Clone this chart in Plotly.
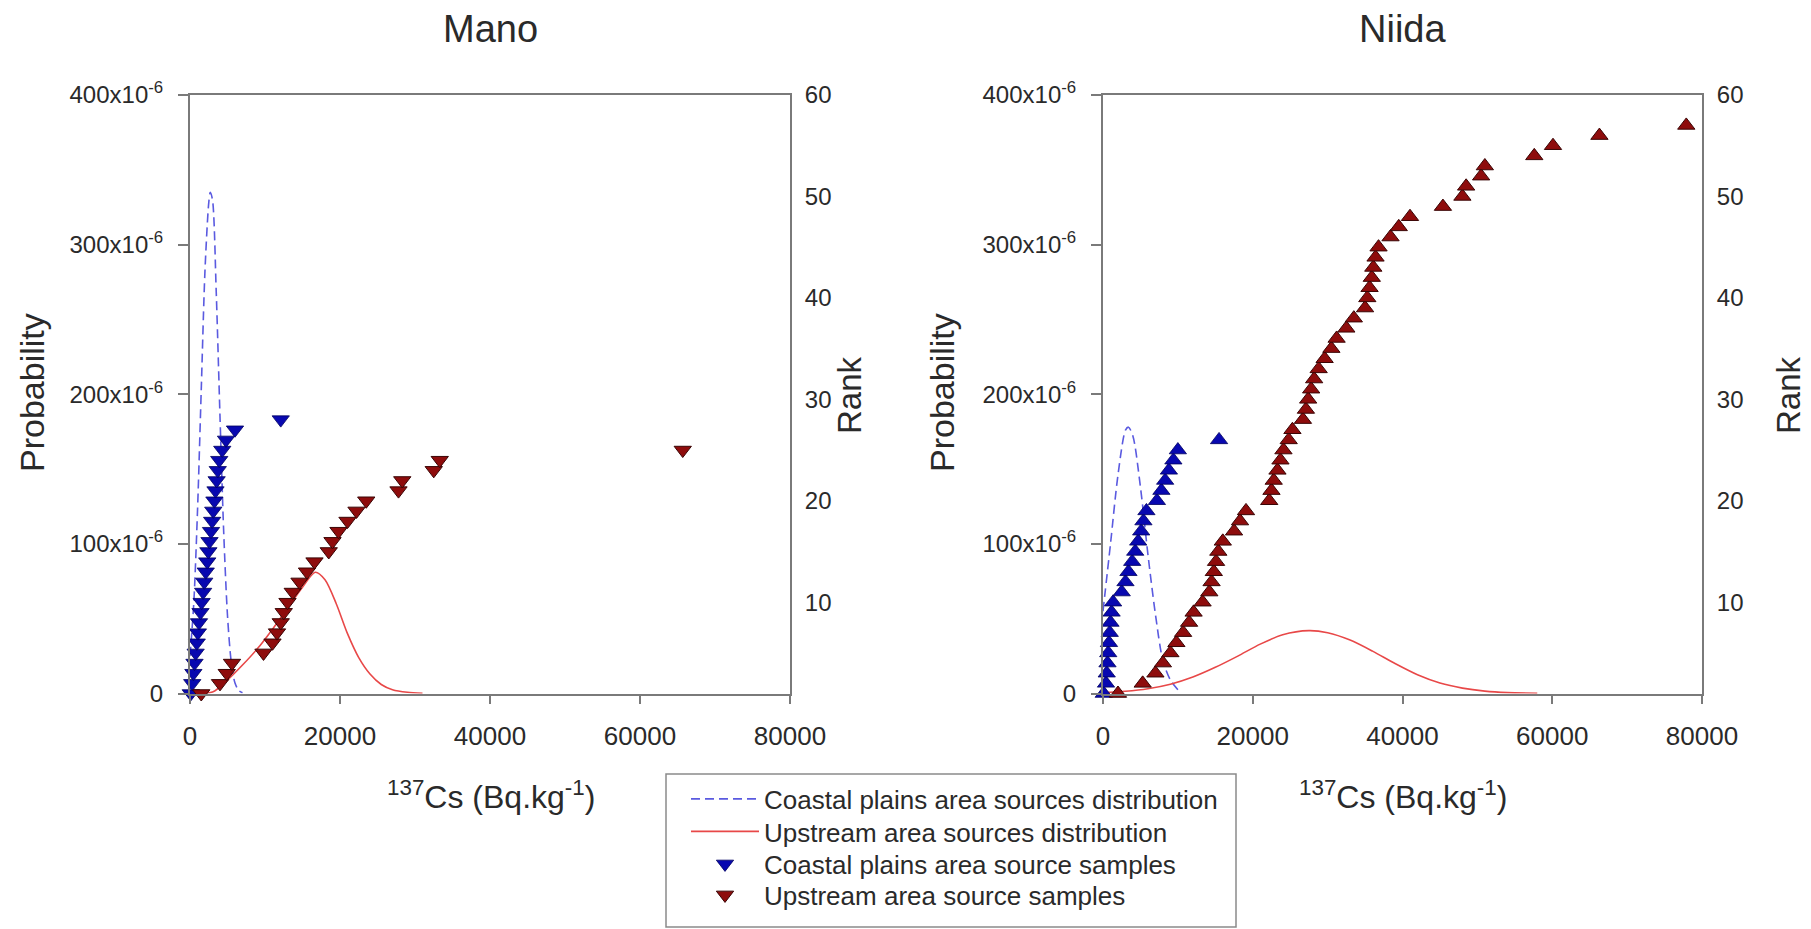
import plotly.graph_objects as go

# ---------------- Data ----------------
# Mano: coastal plains source samples (Cs, rank)
mano_coastal_cs = [100, 300, 450, 600, 750, 900, 1050, 1200, 1400, 1550, 1750, 1900, 2100, 2300,
                   2450, 2600, 2800, 2950, 3100, 3250, 3400, 3550, 3700, 3900, 4300, 4800, 6000, 12100]
mano_coastal_rank = [1, 2, 3, 4, 5, 6, 7, 8, 9, 10, 11, 12, 13, 14,
                     15, 16, 17, 18, 19, 20, 21, 22, 23, 24, 25, 26, 27, 28]
# Mano: upstream source samples
mano_upstream_cs = [1500, 4000, 4900, 5600, 9800, 11000, 11600, 12100, 12500, 13000, 13700, 14600, 15600,
                    16600, 18500, 19000, 19800, 21000, 22200, 23500, 27800, 28300, 32500, 33300, 65700]
mano_upstream_rank = [1, 2, 3, 4, 5, 6, 7, 8, 9, 10, 11, 12, 13,
                      14, 15, 16, 17, 18, 19, 20, 21, 22, 23, 24, 25]
# Mano: distributions (Cs, probability)
mano_coastal_dist_cs = [0, 500, 1000, 1500, 2000, 2500, 2700, 3000, 3500, 4000, 4500, 5000, 5500, 6000, 6500, 7000]
mano_coastal_dist_p = [25e-6, 60e-6, 122e-6, 203e-6, 283e-6, 328e-6, 335e-6, 330e-6, 268e-6, 185e-6,
                       107e-6, 52e-6, 21e-6, 7e-6, 2e-6, 0.5e-6]
mano_upstream_dist_cs = [0, 3000, 5000, 7000, 9000, 11000, 13000, 15000, 16700, 18000, 19500, 21000,
                         22500, 24000, 25500, 27000, 29000, 31000]
mano_upstream_dist_p = [0.2e-6, 1e-6, 9e-6, 19e-6, 30e-6, 43e-6, 57e-6, 71e-6, 81e-6, 76e-6, 60e-6, 40e-6,
                        24e-6, 13e-6, 6e-6, 2.5e-6, 0.8e-6, 0.2e-6]

# Niida: coastal plains source samples
niida_coastal_cs = [100, 400, 500, 600, 700, 800, 900, 1000, 1150, 1350, 2500, 3000, 3400, 3900, 4300,
                    4700, 5100, 5400, 5800, 7200, 7800, 8300, 8800, 9400, 10000, 15500]
niida_coastal_rank = [1, 2, 3, 4, 5, 6, 7, 8, 9, 10, 11, 12, 13, 14, 15,
                      16, 17, 18, 19, 20, 21, 22, 23, 24, 25, 26]
# Niida: upstream source samples
niida_upstream_cs = [2000, 5300, 7000, 8000, 9000, 9800, 10700, 11500, 12100, 13300, 14200, 14500, 14800,
                     15100, 15400, 16000, 17500, 18300, 19100, 22200, 22500, 22800, 23300, 23700, 24100,
                     24800, 25300, 26700, 27100, 27400, 27800, 28200, 28800, 29600, 30500, 31200, 32500,
                     33500, 35000, 35300, 35600, 35900, 36100, 36400, 36800, 38400, 39500, 41000, 45400,
                     48000, 48500, 50500, 51000, 57600, 60100, 66300, 77900]
niida_upstream_rank = [1, 2, 3, 4, 5, 6, 7, 8, 9, 10, 11, 12, 13,
                       14, 15, 16, 17, 18, 19, 20, 21, 22, 23, 24, 25,
                       26, 27, 28, 29, 30, 31, 32, 33, 34, 35, 36, 37,
                       38, 39, 40, 41, 42, 43, 44, 45, 46, 47, 48, 49,
                       50, 51, 52, 53, 54, 55, 56, 57]
# Niida: distributions
niida_coastal_dist_cs = [0, 1000, 2000, 3000, 3400, 4000, 5000, 6000, 7000, 8000, 9000, 10000]
niida_coastal_dist_p = [55e-6, 100e-6, 146e-6, 176e-6, 178e-6, 172e-6, 138e-6, 93e-6, 53e-6, 22e-6, 9e-6, 2.5e-6]
niida_upstream_dist_cs = [0, 3000, 6000, 9000, 12000, 15000, 18000, 21000, 24000, 27500, 30000, 33000,
                          36000, 39000, 42000, 45000, 48000, 51000, 54000, 58000]
niida_upstream_dist_p = [0.6e-6, 1.5e-6, 3.2e-6, 6.2e-6, 11e-6, 17.5e-6, 25e-6, 33e-6, 39.3e-6, 42e-6, 40.6e-6,
                         35.7e-6, 28.3e-6, 20e-6, 12.5e-6, 7e-6, 3.6e-6, 1.6e-6, 0.6e-6, 0.2e-6]

prob_tickvals = [0, 100e-6, 200e-6, 300e-6, 400e-6]
prob_ticktext = ["0", "100x10<sup>-6</sup>", "200x10<sup>-6</sup>", "300x10<sup>-6</sup>", "400x10<sup>-6</sup>"]
rank_tickvals = [10, 20, 30, 40, 50, 60]
cs_tickvals = [0, 20000, 40000, 60000, 80000]
cs_ticktext = ["0", "20000", "40000", "60000", "80000"]

legend_labels = ["Coastal plains area sources distribution", "Upstream area sources distribution",
                 "Coastal plains area source samples", "Upstream area source samples"]

# ---------------- Styles ----------------
W, H = 1811, 929
FONT = "Liberation Sans, Arial, sans-serif"
TXT = "#2a2a2a"
AX = "#7a7a7a"
BLUE_LINE = "#5a5ae0"
RED_LINE = "#e84848"
BLUE_MK = "#0808b0"
RED_MK = "#8e0c0c"
RED_MK_EDGE = "#3a0505"

def px_x(p):
    return p / W

def px_y(p):
    return 1 - p / H

fig = go.Figure()

panels = [
    dict(xa="x", ya="y", ya2="y2", sym="triangle-down",
         cd=(mano_coastal_dist_cs, mano_coastal_dist_p), ud=(mano_upstream_dist_cs, mano_upstream_dist_p),
         cs=(mano_coastal_cs, mano_coastal_rank), us=(mano_upstream_cs, mano_upstream_rank), legend=True),
    dict(xa="x2", ya="y3", ya2="y4", sym="triangle-up",
         cd=(niida_coastal_dist_cs, niida_coastal_dist_p), ud=(niida_upstream_dist_cs, niida_upstream_dist_p),
         cs=(niida_coastal_cs, niida_coastal_rank), us=(niida_upstream_cs, niida_upstream_rank), legend=False),
]

for p in panels:
    fig.add_trace(go.Scatter(x=p["cd"][0], y=p["cd"][1], xaxis=p["xa"], yaxis=p["ya"], mode="lines",
                             line=dict(color=BLUE_LINE, width=1.6, dash="9px,5px", shape="spline", smoothing=0.8),
                             name=legend_labels[0], showlegend=p["legend"], legend="legend"))
    fig.add_trace(go.Scatter(x=p["ud"][0], y=p["ud"][1], xaxis=p["xa"], yaxis=p["ya"], mode="lines",
                             line=dict(color=RED_LINE, width=1.6, shape="spline", smoothing=0.8),
                             name=legend_labels[1], showlegend=p["legend"], legend="legend2"))
    fig.add_trace(go.Scatter(x=p["cs"][0], y=p["cs"][1], xaxis=p["xa"], yaxis=p["ya2"], mode="markers",
                             marker=dict(symbol=p["sym"], size=15,
                                         color=BLUE_MK, line=dict(color="#000060", width=0.8)),
                             cliponaxis=False,
                             name=legend_labels[2], showlegend=p["legend"], legend="legend3"))
    fig.add_trace(go.Scatter(x=p["us"][0], y=p["us"][1], xaxis=p["xa"], yaxis=p["ya2"], mode="markers",
                             marker=dict(symbol=p["sym"], size=15,
                                         color=RED_MK, line=dict(color=RED_MK_EDGE, width=1)),
                             cliponaxis=False,
                             name=legend_labels[3], showlegend=p["legend"], legend="legend4"))

ydom = [px_y(693.5), px_y(95)]
xdom1 = [px_x(190), px_x(790)]
xdom2 = [px_x(1103), px_x(1702)]

xcommon = dict(range=[0, 80000], tickvals=cs_tickvals, ticktext=cs_ticktext, showline=True, linecolor=AX,
               linewidth=2, mirror=True, ticks="outside", ticklen=8, tickwidth=1.5, tickcolor=AX,
               showgrid=False, zeroline=False, automargin=False,
               tickfont=dict(size=26, family=FONT, color=TXT), ticklabelstandoff=10)
ycommon = dict(range=[0, 400e-6], tickvals=prob_tickvals, ticktext=prob_ticktext, showline=True,
               linecolor=AX, linewidth=2, ticks="outside", ticklen=10, tickwidth=1.5, tickcolor=AX,
               showgrid=False, zeroline=False, automargin=False,
               tickfont=dict(size=24, family=FONT, color=TXT), ticklabelstandoff=10)
y2common = dict(range=[1, 60], tickvals=rank_tickvals, showline=True, linecolor=AX, linewidth=2,
                ticks="", showgrid=False, zeroline=False, side="right", automargin=False,
                tickfont=dict(size=24, family=FONT, color=TXT), ticklabelstandoff=8)

leg_common = dict(x=px_x(686), xanchor="left", yanchor="middle", borderwidth=0,
                  bgcolor="rgba(255,255,255,0)", font=dict(size=26, family=FONT, color=TXT),
                  itemwidth=68, tracegroupgap=0)

fig.update_layout(
    template="none",
    width=W, height=H, margin=dict(l=0, r=0, t=0, b=0, pad=0), autosize=False,
    paper_bgcolor="white", plot_bgcolor="white",
    font=dict(family=FONT, color=TXT),
    xaxis=dict(domain=xdom1, anchor="y", **xcommon),
    xaxis2=dict(domain=xdom2, anchor="y3", **xcommon),
    yaxis=dict(domain=ydom, anchor="x", **ycommon),
    yaxis2=dict(anchor="x", overlaying="y", **y2common),
    yaxis3=dict(domain=ydom, anchor="x2", **ycommon),
    yaxis4=dict(anchor="x2", overlaying="y3", **y2common),
    legend=dict(y=px_y(799), **leg_common),
    legend2=dict(y=px_y(831.5), **leg_common),
    legend3=dict(y=px_y(864), **leg_common),
    legend4=dict(y=px_y(895), **leg_common),
    showlegend=True,
)

# legend frame
fig.add_shape(type="rect", xref="paper", yref="paper", x0=px_x(666), x1=px_x(1236), y0=px_y(927), y1=px_y(774),
              line=dict(color="#8a8a8a", width=1.5), fillcolor="rgba(0,0,0,0)", layer="below")

ann = []
for name, cx in [("Mano", 490), ("Niida", 1402)]:
    ann.append(dict(text=name, x=px_x(cx), y=px_y(29), xref="paper", yref="paper", showarrow=False,
                    font=dict(size=38, family=FONT, color=TXT), xanchor="center", yanchor="middle"))
for cx in [32, 942]:
    ann.append(dict(text="Probability", x=px_x(cx), y=px_y(393), xref="paper", yref="paper", showarrow=False,
                    textangle=-90, font=dict(size=34, family=FONT, color=TXT), xanchor="center", yanchor="middle"))
for cx in [850, 1789]:
    ann.append(dict(text="Rank", x=px_x(cx), y=px_y(395), xref="paper", yref="paper", showarrow=False,
                    textangle=-90, font=dict(size=33, family=FONT, color=TXT), xanchor="center", yanchor="middle"))
for cx in [491, 1403]:
    ann.append(dict(text="<sup>137</sup>Cs (Bq.kg<sup>-1</sup>)", x=px_x(cx), y=px_y(795), xref="paper",
                    yref="paper", showarrow=False, font=dict(size=32, family=FONT, color=TXT),
                    xanchor="center", yanchor="middle"))
fig.update_layout(annotations=ann)

fig.write_html("out.html", config={"displayModeBar": False},
               post_script="document.body.style.margin='0';document.body.style.overflow='hidden';")
